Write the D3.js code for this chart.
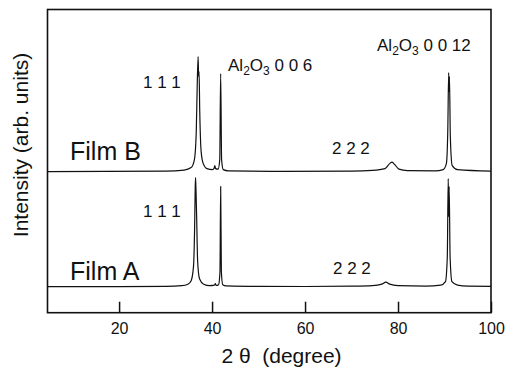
<!DOCTYPE html>
<html>
<head>
<meta charset="utf-8">
<script src="https://cdn.jsdelivr.net/npm/d3@7"></script>
<style>
  body { margin: 0; background: #fff; }
  text { font-family: "Liberation Sans", Arial, sans-serif; fill: #111; }
</style>
</head>
<body>
<div id="xrd_chart"></div>
<script>
// size of svg
const width = 505; const height = 370;
const margin = {top: 9.5, right: 14, bottom: 57.3, left: 47.5};
const innerWidth = width - margin.left - margin.right;
const innerHeight = height - margin.top - margin.bottom;

// data (2 theta in degree, intensity above own baseline in arb. units)
const filmA_2theta = [4.6, 20, 30, 33.5, 34.8, 35.5, 36.0, 36.25, 36.38, 36.45, 36.55, 36.68, 36.9, 37.3, 38.2, 39.5,
    40.5, 40.7, 40.9, 41.4, 41.7, 41.85, 42.0, 42.3, 43, 50, 60, 70, 74.5, 76.5, 77.4, 78.2, 80, 86,
    89.2, 90.2, 90.6, 90.8, 90.9, 91.0, 91.2, 91.6, 92.8, 95, 100];
const filmA_int = [0, 0, 0.3, 1, 2.5, 6, 20, 60, 100, 109, 95, 70, 25, 8, 2.5, 1,
    1.5, 3, 1.2, 2, 15, 100, 15, 2, 0.8, 0.3, 0.2, 0.5, 1, 2.5, 4.5, 2.5, 1, 0.6,
    1.5, 5, 30, 108, 70, 100, 30, 5, 1.5, 0.5, 0.3];

const filmB_2theta = [4.6, 30, 34, 35.5, 36.2, 36.6, 36.8, 37.0, 37.1, 37.2, 37.35, 37.65, 38.1, 38.9, 40.1,
    40.45, 40.6, 40.75, 41.3, 41.65, 41.85, 42.05, 42.4, 43.5, 55, 70, 74.5, 77.2, 78.2, 78.7, 79.2, 80.2,
    82, 88, 89.7, 90.4, 90.7, 90.9, 90.98, 91.06, 91.25, 91.65, 92.8, 100];
const filmB_int = [0, 0.5, 1.5, 4, 12, 40, 85, 115, 95, 100, 60, 20, 8, 3, 2,
    3.5, 6, 3, 2.5, 12, 98, 12, 2, 0.8, 0.3, 0.5, 1.2, 3, 8, 9.5, 7.5, 2.5,
    1, 0.8, 2, 8, 40, 99, 80, 95, 35, 6, 2, 0.5];

const film_names = ['Film A', 'Film B'];
const film_offsets = [26, 141];   // vertical shift of each trace
const x_ticks = [20, 40, 60, 80, 100];

let svg = d3.select('#xrd_chart')
    .append('svg')
        .attr('width', width)
        .attr('height', height);
let plotG = svg.append('g')
    .attr('transform', `translate(${margin.left}, ${margin.top})`);

const x = d3.scaleLinear().domain([4.6, 100]).range([0, innerWidth]);
const y = d3.scaleLinear().domain([0, 303]).range([innerHeight, 0]);

const series = [
    filmA_2theta.map((t, i) => ({t: t, v: filmA_int[i]})),
    filmB_2theta.map((t, i) => ({t: t, v: filmB_int[i]}))
];

const line = d3.line().curve(d3.curveMonotoneX);

series.forEach(function(s, k){
    plotG.append('path')
        .datum(s)
        .attr('fill', 'none')
        .attr('stroke', '#111')
        .attr('stroke-width', 1.2)
        .attr('d', line.x(d => x(d.t)).y(d => y(d.v + film_offsets[k])));
});

// bottom axis, ticks pointing inward
let xAxis = plotG.append('g')
    .attr('transform', `translate(0, ${innerHeight})`)
    .call(d3.axisBottom(x).tickValues(x_ticks).tickSizeInner(-11).tickSizeOuter(0).tickPadding(10));
xAxis.select('.domain').remove();
xAxis.selectAll('.tick line').attr('stroke', '#111').attr('stroke-width', 1.5);
xAxis.selectAll('.tick text')
    .attr('font-size', 16)
    .attr('font-family', '"Liberation Sans", Arial, sans-serif')
    .attr('fill', '#111');

// frame
plotG.append('rect')
    .attr('width', innerWidth)
    .attr('height', innerHeight)
    .attr('fill', 'none')
    .attr('stroke', '#111')
    .attr('stroke-width', 1.6);

// axis titles
svg.append('text')
    .attr('x', 281.5).attr('y', 363)
    .attr('text-anchor', 'middle')
    .attr('font-size', 21)
    .text('2 θ \u00A0(degree)');
svg.append('text')
    .attr('transform', 'translate(28, 145) rotate(-90)')
    .attr('text-anchor', 'middle')
    .attr('font-size', 21)
    .text('Intensity (arb. units)');

// film names
svg.append('text').attr('x', 70).attr('y', 159.5).attr('font-size', 25).text(film_names[1]);
svg.append('text').attr('x', 70).attr('y', 280).attr('font-size', 25).text(film_names[0]);

// peak labels
const hkl_labels = [
    {text: '1 1 1', x: 143, y: 88},
    {text: '1 1 1', x: 143, y: 216.5},
    {text: '2 2 2', x: 332, y: 154},
    {text: '2 2 2', x: 333, y: 273.5}
];
hkl_labels.forEach(function(d){
    svg.append('text').attr('x', d.x).attr('y', d.y)
        .attr('font-size', 17).text(d.text);
});

const sub_labels = [
    {suffix: ' 0 0 6', x: 228, y: 70.5},
    {suffix: ' 0 0 12', x: 377, y: 50.5}
];
sub_labels.forEach(function(d){
    let t = svg.append('text').attr('x', d.x).attr('y', d.y)
        .attr('font-size', 17);
    t.append('tspan').text('Al');
    t.append('tspan').attr('font-size', 12).attr('dy', 4).text('2');
    t.append('tspan').attr('dy', -4).text('O');
    t.append('tspan').attr('font-size', 12).attr('dy', 4).text('3');
    t.append('tspan').attr('dy', -4).text(d.suffix);
});
</script>
</body>
</html>
